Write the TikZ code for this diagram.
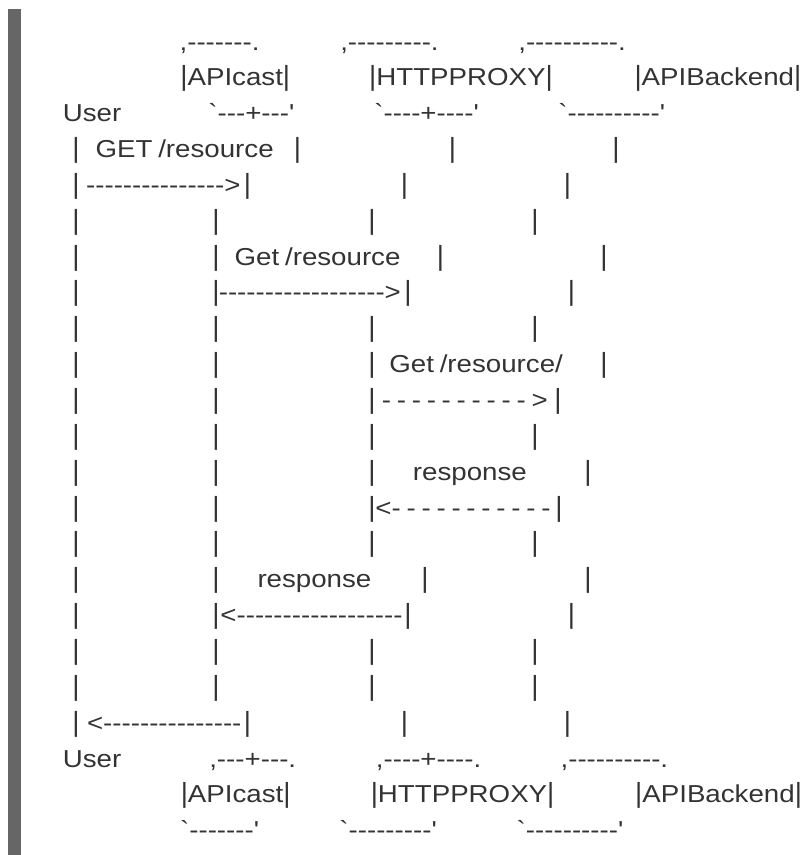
\documentclass[tikz,border=0pt]{standalone}
\usepackage{fontspec}
\setmainfont[Ligatures=TeXOff,FakeStretch=1.13,WordSpace=0.75]{Liberation Sans}
\newfontfamily\barfont[Ligatures=TeXOff]{Liberation Sans}
\definecolor{asciigray}{RGB}{51,51,51}
\definecolor{sidebar}{RGB}{102,102,102}
\newcommand{\lifebar}{{\barfont\fontsize{27.7}{30}\selectfont|}}
\tikzset{
  txt/.style={anchor=base west, inner sep=0pt, outer sep=0pt, text=asciigray, font=\fontsize{24.5}{28}\selectfont},
  pipe/.style={anchor=base, inner sep=0pt, outer sep=0pt, text=asciigray, font=\barfont\fontsize{27.7}{30}\selectfont},
  declare function={rowy(\n)=50+(\n-1)*35.85;}
}

\begin{document}
\begin{tikzpicture}[x=1pt,y=-1pt]
        \useasboundingbox (0,0) rectangle (807,855);
        \fill[sidebar] (8,9) rectangle (21,855);

        % participants on top
        \node[txt] (capi) at (179.6,{rowy(1)}) {,-------.};
        \node[txt] (cproxy) at (340.3,{rowy(1)}) {,---------.};
        \node[txt] (cback) at (518.3,{rowy(1)}) {,----------.};
        \node[txt] (apicast) at (180.4,{rowy(2)}) {\lifebar APIcast\lifebar};
        \node[txt] (proxy) at (369.2,{rowy(2)}) {\lifebar HTTPPROXY\lifebar};
        \node[txt] (backend) at (634.5,{rowy(2)}) {\lifebar APIBackend\lifebar};
        \node[txt] (user) at (62.8,{rowy(3)}) {User};
        \node[txt] (bapi) at (208.4,{rowy(3)}) {`---+---'};
        \node[txt] (bproxy) at (374.4,{rowy(3)}) {`----+----'};
        \node[txt] (bback) at (558.4,{rowy(3)}) {`----------'};

        % lifelines
        \foreach \r/\xs in {4/{76,297.5,452.5,616}, 5/{76,247.5,404.5,567.5},
                            6/{76,216,372,535}, 7/{76,216,440.5,604},
                            8/{76,216,408,571.5}, 9/{76,216,372,535},
                            10/{76,216,372,604}, 11/{76,216,372,558},
                            12/{76,216,372,535}, 13/{76,216,372,588},
                            14/{76,216,372,559}, 15/{76,216,372,535},
                            16/{76,216,425,588}, 17/{76,216,408,571.5},
                            18/{76,216,372,535}, 19/{76,216,372,535},
                            20/{76,247.5,404.5,567.5}}
            \foreach \x [count=\c] in \xs
                \node[pipe] (p\r-\c) at (\x,{rowy(\r)}) {|};

        % messages
        \node[txt] (get1) at (95.6,{rowy(4)}) {GET /resource};
        \node[txt] (req1) at (86.1,{rowy(5)}) {--------------->};
        \node[txt] (get2) at (234.7,{rowy(7)}) {Get /resource};
        \node[txt] (req2) at (218.8,{rowy(8)}) {------------------>};
        \node[txt] (get3) at (389.4,{rowy(10)}) {Get /resource/};
        \node[txt] (req3) at (381.8,{rowy(11)}) {- - - - - - - - - - >};
        \node[txt] (resp3) at (412.9,{rowy(13)}) {response};
        \node[txt] (ret3) at (375.4,{rowy(14)}) {<- - - - - - - - - - -};
        \node[txt] (resp2) at (257.5,{rowy(16)}) {response};
        \node[txt] (ret2) at (220.4,{rowy(17)}) {<------------------};
        \node[txt] (ret1) at (87,{rowy(20)}) {<---------------};

        % participants at the bottom
        \node[txt] (user2) at (62.8,{rowy(21)}) {User};
        \node[txt] (capi2) at (209.3,{rowy(21)}) {,---+---.};
        \node[txt] (cproxy2) at (375.9,{rowy(21)}) {,----+----.};
        \node[txt] (cback2) at (560.6,{rowy(21)}) {,----------.};
        \node[txt] (apicast2) at (180.8,{rowy(22)}) {\lifebar APIcast\lifebar};
        \node[txt] (proxy2) at (370.8,{rowy(22)}) {\lifebar HTTPPROXY\lifebar};
        \node[txt] (backend2) at (635.2,{rowy(22)}) {\lifebar APIBackend\lifebar};
        \node[txt] (bapi2) at (180.1,{rowy(23)}) {`-------'};
        \node[txt] (bproxy2) at (339.4,{rowy(23)}) {`---------'};
        \node[txt] (bback2) at (516.7,{rowy(23)}) {`----------'};
    \end{tikzpicture}
\end{document}
